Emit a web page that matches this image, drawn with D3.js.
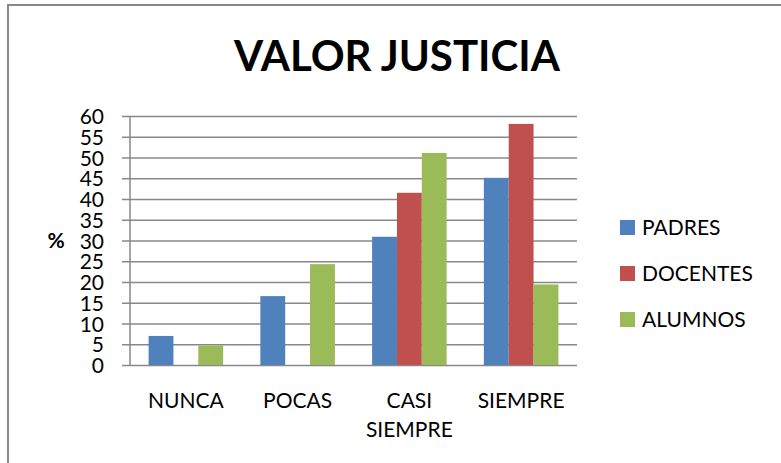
<!DOCTYPE html>
<html>
<head>
    <title>Valor Justicia</title>
    <script src="https://d3js.org/d3.v7.min.js"></script>
    <style>
        body {
            margin: 0;
            background-color: #FFFFFF;
        }
        text {
            font-family: Lato, "Open Sans", sans-serif;
            fill: #000000;
        }
    </style>
</head>
<body>
    <div id="chart"></div>

    <script>
        // Data
        var categories = [["NUNCA"], ["POCAS"], ["CASI", "SIEMPRE"], ["SIEMPRE"]];
        var seriesNames = ["PADRES", "DOCENTES", "ALUMNOS"];
        var padres = [7, 16.6, 30.9, 45.1];
        var docentes = [0, 0, 41.5, 58.1];
        var alumnos = [4.7, 24.3, 51.1, 19.4];
        var yTicks = [0, 5, 10, 15, 20, 25, 30, 35, 40, 45, 50, 55, 60];
        var colors = ["#4F81BD", "#C0504D", "#9BBB59"];

        var series = [padres, docentes, alumnos];

        var W = 781, H = 463;
        var plot = { left: 130, right: 577, top: 116, bottom: 365 };
        var fs = "21px";

        var svg = d3.select("#chart")
            .append("svg")
            .attr("width", W)
            .attr("height", H);

        // outer chart border (runs off the right and bottom edges)
        svg.append("rect")
            .attr("x", 8)
            .attr("y", 5)
            .attr("width", W + 20)
            .attr("height", H + 20)
            .attr("fill", "none")
            .attr("stroke", "#888888")
            .attr("stroke-width", 2);

        // Title
        svg.append("text")
            .attr("x", 397)
            .attr("y", 71)
            .attr("text-anchor", "middle")
            .style("font-weight", "bold")
            .style("font-size", "42px")
            .text("VALOR JUSTICIA");

        // Scales
        var catIdx = d3.range(categories.length);
        var x0 = d3.scaleBand()
            .domain(catIdx)
            .range([plot.left, plot.right])
            .paddingInner(0.333)
            .paddingOuter(0.1665);

        var x1 = d3.scaleBand()
            .domain(d3.range(series.length))
            .range([0, x0.bandwidth()]);

        var y = d3.scaleLinear()
            .domain([0, 60])
            .range([plot.bottom, plot.top]);

        // Gridlines and ticks
        var yAxis = d3.axisLeft(y)
            .tickValues(yTicks)
            .tickSize(-(plot.right - plot.left))
            .tickSizeOuter(0)
            .tickPadding(26);

        var gy = svg.append("g")
            .attr("transform", "translate(" + plot.left + ",0)")
            .call(yAxis);

        gy.select(".domain").remove();
        gy.selectAll(".tick line")
            .attr("x1", -8)
            .attr("stroke", "#888888")
            .attr("stroke-width", 1.5);
        gy.selectAll(".tick text")
            .style("font-size", fs)
            .style("font-family", "Lato, sans-serif")
            .attr("fill", "#000000")
            .attr("dy", "0.36em");

        // vertical axis line
        svg.append("line")
            .attr("x1", plot.left)
            .attr("x2", plot.left)
            .attr("y1", y(60))
            .attr("y2", y(0))
            .attr("stroke", "#888888")
            .attr("stroke-width", 1.5);

        // Bars
        series.forEach(function(vals, si) {
            svg.append("g")
                .selectAll("rect")
                .data(vals)
                .join("rect")
                .attr("x", function(d, i) { return x0(i) + x1(si); })
                .attr("y", function(d) { return y(d); })
                .attr("width", x1.bandwidth())
                .attr("height", function(d) { return y(0) - y(d); })
                .attr("fill", colors[si]);
        });

        // Category labels
        var xl = svg.append("g");
        categories.forEach(function(lines, i) {
            var t = xl.append("text")
                .attr("x", x0(i) + x0.bandwidth() / 2)
                .attr("y", 408)
                .attr("text-anchor", "middle")
                .style("font-size", fs);
            lines.forEach(function(s, k) {
                t.append("tspan")
                    .attr("x", x0(i) + x0.bandwidth() / 2)
                    .attr("dy", k === 0 ? 0 : 29)
                    .text(s);
            });
        });

        // Y axis title
        svg.append("text")
            .attr("x", 56)
            .attr("y", 248)
            .attr("text-anchor", "middle")
            .style("font-weight", "bold")
            .style("font-size", fs)
            .text("%");

        // Legend
        var legend = svg.append("g");
        seriesNames.forEach(function(name, i) {
            var ly = 228 + i * 46;
            legend.append("rect")
                .attr("x", 620)
                .attr("y", ly - 8)
                .attr("width", 15)
                .attr("height", 15)
                .attr("fill", colors[i]);
            legend.append("text")
                .attr("x", 642)
                .attr("y", ly + 7)
                .style("font-size", fs)
                .text(name);
        });
    </script>
</body>
</html>
